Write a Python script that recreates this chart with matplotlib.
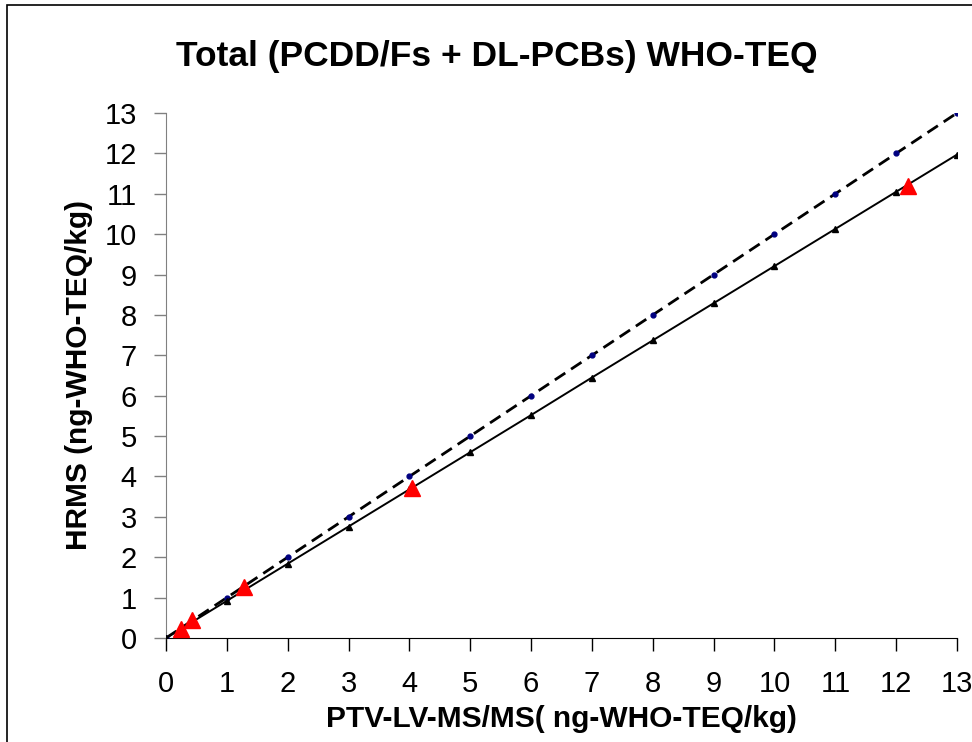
import matplotlib
matplotlib.use("Agg")
import matplotlib.pyplot as plt
from matplotlib.patches import Rectangle

plt.rcParams['font.family'] = ['Liberation Sans', 'DejaVu Sans']

# reference line y = x
ref_x = [0, 1, 2, 3, 4, 5, 6, 7, 8, 9, 10, 11, 12, 13]
ref_y = [0, 1, 2, 3, 4, 5, 6, 7, 8, 9, 10, 11, 12, 13]

# regression line
fit_x = [0, 1, 2, 3, 4, 5, 6, 7, 8, 9, 10, 11, 12, 13]
fit_y = [0, 0.92, 1.84, 2.76, 3.68, 4.60, 5.52, 6.45, 7.37, 8.29, 9.21, 10.13, 11.05, 11.97]

# measured samples
samp_x = [0.25, 0.42, 1.28, 4.05, 12.2]
samp_y = [0.22, 0.45, 1.25, 3.72, 11.2]

fig = plt.figure(figsize=(9.72, 7.42), dpi=100)
ax = fig.add_axes([0.1708, 0.1402, 0.8138, 0.7075])

ax.plot(ref_x, ref_y, color='black', linestyle=(0, (4.5, 2.5)), linewidth=2,
        marker='o', markersize=3.5, markerfacecolor='#000080', markeredgecolor='#000080',
        zorder=3)
ax.plot(fit_x, fit_y, color='black', linewidth=1.4, marker='^', markersize=4,
        markerfacecolor='black', markeredgecolor='black', zorder=3)
ax.plot(samp_x, samp_y, linestyle='none', marker='^', markersize=11,
        color='red', zorder=4)

ax.set_xlim(0, 13)
ax.set_ylim(0, 13)
ax.set_xticks(range(14))
ax.set_yticks(range(14))
ax.tick_params(direction='out', length=9, width=1, labelsize=21)
ax.tick_params(axis='x', pad=14)
ax.tick_params(axis='y', pad=12, colors='#808080', labelcolor='black')
ax.spines['top'].set_visible(False)
ax.spines['right'].set_visible(False)
ax.spines['left'].set_color('#808080')
ax.spines['bottom'].set_color('black')

ax.set_title('Total (PCDD/Fs + DL-PCBs) WHO-TEQ', fontsize=25.5, fontweight='bold',
             x=0.418, pad=34)
ax.set_xlabel('PTV-LV-MS/MS( ng-WHO-TEQ/kg)', fontsize=21.5, fontweight='bold', labelpad=5)
ax.set_ylabel('HRMS (ng-WHO-TEQ/kg)', fontsize=21.5, fontweight='bold', labelpad=8)

# outer frame of the chart area
fig.patches.append(Rectangle((0.007, -0.1), 1.2, 1.093, transform=fig.transFigure,
                             fill=False, edgecolor='black', linewidth=1.2))

fig.savefig('out.png', dpi=100)
